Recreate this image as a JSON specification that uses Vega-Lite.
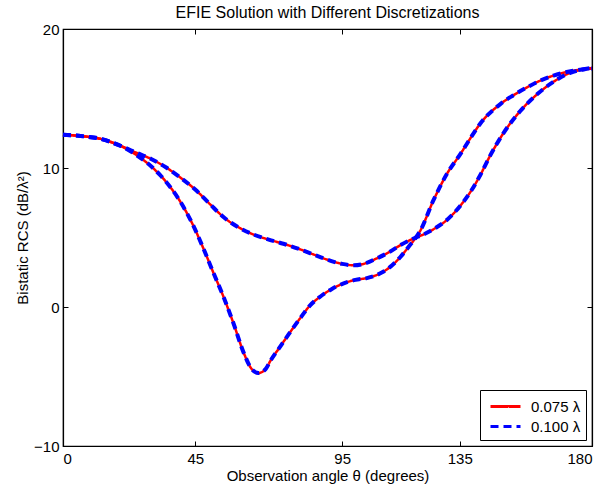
{
"$schema": "https://vega.github.io/schema/vega-lite/v6.json",
"width": 529, "height": 417,
"autosize": {"type": "none"},
"padding": {"left": 63, "top": 29, "right": 10, "bottom": 43},
"background": "white",
"title": {"text": "EFIE Solution with Different Discretizations", "font": "Liberation Sans", "fontSize": 16, "fontWeight": "normal", "color": "black", "offset": 1},
"config": {
  "view": {"stroke": "black", "strokeWidth": 1.2},
  "axis": {"labelFont": "Liberation Sans", "titleFont": "Liberation Sans", "labelFontSize": 15, "titleFontSize": 15, "titleFontWeight": "normal", "labelColor": "black", "titleColor": "black", "domainColor": "black", "tickColor": "black", "grid": false, "tickSize": -5, "domainWidth": 1.2, "tickWidth": 1},
  "legend": {"orient": "bottom-right", "offset": 6, "strokeColor": "black", "fillColor": "white", "padding": 5, "cornerRadius": 0, "labelFont": "Liberation Sans", "labelFontSize": 15, "labelColor": "black", "symbolType": "M-1.5,0L1.5,0", "symbolSize": 400, "symbolStrokeWidth": 3, "rowPadding": 0, "symbolOffset": 9, "labelOffset": 14}
},
"data": {"values": [
{"series":"0.075 λ","curve":"A","theta":0,"rcs":12.4},
{"series":"0.075 λ","curve":"A","theta":6,"rcs":12.3},
{"series":"0.075 λ","curve":"A","theta":12.7,"rcs":12.1},
{"series":"0.075 λ","curve":"A","theta":19.5,"rcs":11.6},
{"series":"0.075 λ","curve":"A","theta":25,"rcs":11.1},
{"series":"0.075 λ","curve":"A","theta":30,"rcs":10.65},
{"series":"0.075 λ","curve":"A","theta":35,"rcs":10.05},
{"series":"0.075 λ","curve":"A","theta":40,"rcs":9.3},
{"series":"0.075 λ","curve":"A","theta":45,"rcs":8.45},
{"series":"0.075 λ","curve":"A","theta":50,"rcs":7.4},
{"series":"0.075 λ","curve":"A","theta":55,"rcs":6.4},
{"series":"0.075 λ","curve":"A","theta":60,"rcs":5.7},
{"series":"0.075 λ","curve":"A","theta":65,"rcs":5.2},
{"series":"0.075 λ","curve":"A","theta":70,"rcs":4.85},
{"series":"0.075 λ","curve":"A","theta":75,"rcs":4.55},
{"series":"0.075 λ","curve":"A","theta":80,"rcs":4.2},
{"series":"0.075 λ","curve":"A","theta":85,"rcs":3.8},
{"series":"0.075 λ","curve":"A","theta":90,"rcs":3.4},
{"series":"0.075 λ","curve":"A","theta":95,"rcs":3.1},
{"series":"0.075 λ","curve":"A","theta":99,"rcs":3.0},
{"series":"0.075 λ","curve":"A","theta":103,"rcs":3.15},
{"series":"0.075 λ","curve":"A","theta":106.8,"rcs":3.5},
{"series":"0.075 λ","curve":"A","theta":111,"rcs":3.95},
{"series":"0.075 λ","curve":"A","theta":114.8,"rcs":4.45},
{"series":"0.075 λ","curve":"A","theta":119.3,"rcs":4.93},
{"series":"0.075 λ","curve":"A","theta":123,"rcs":5.25},
{"series":"0.075 λ","curve":"A","theta":126.5,"rcs":5.65},
{"series":"0.075 λ","curve":"A","theta":130,"rcs":6.15},
{"series":"0.075 λ","curve":"A","theta":133,"rcs":6.75},
{"series":"0.075 λ","curve":"A","theta":136,"rcs":7.5},
{"series":"0.075 λ","curve":"A","theta":139,"rcs":8.4},
{"series":"0.075 λ","curve":"A","theta":142,"rcs":9.5},
{"series":"0.075 λ","curve":"A","theta":145,"rcs":10.75},
{"series":"0.075 λ","curve":"A","theta":150,"rcs":12.55},
{"series":"0.075 λ","curve":"A","theta":155.6,"rcs":14.1},
{"series":"0.075 λ","curve":"A","theta":161.3,"rcs":15.3},
{"series":"0.075 λ","curve":"A","theta":166.9,"rcs":16.2},
{"series":"0.075 λ","curve":"A","theta":172.6,"rcs":16.85},
{"series":"0.075 λ","curve":"A","theta":176,"rcs":17.05},
{"series":"0.075 λ","curve":"A","theta":180,"rcs":17.2},
{"series":"0.075 λ","curve":"B","theta":0,"rcs":12.4},
{"series":"0.075 λ","curve":"B","theta":6,"rcs":12.3},
{"series":"0.075 λ","curve":"B","theta":12.7,"rcs":12.1},
{"series":"0.075 λ","curve":"B","theta":19.5,"rcs":11.6},
{"series":"0.075 λ","curve":"B","theta":25.2,"rcs":10.9},
{"series":"0.075 λ","curve":"B","theta":29,"rcs":10.3},
{"series":"0.075 λ","curve":"B","theta":33,"rcs":9.5},
{"series":"0.075 λ","curve":"B","theta":36.6,"rcs":8.6},
{"series":"0.075 λ","curve":"B","theta":40,"rcs":7.55},
{"series":"0.075 λ","curve":"B","theta":44,"rcs":6.0},
{"series":"0.075 λ","curve":"B","theta":47.8,"rcs":4.2},
{"series":"0.075 λ","curve":"B","theta":51.2,"rcs":2.45},
{"series":"0.075 λ","curve":"B","theta":54.6,"rcs":0.74},
{"series":"0.075 λ","curve":"B","theta":58,"rcs":-1.17},
{"series":"0.075 λ","curve":"B","theta":61.5,"rcs":-3.3},
{"series":"0.075 λ","curve":"B","theta":64,"rcs":-4.4},
{"series":"0.075 λ","curve":"B","theta":66.5,"rcs":-4.75},
{"series":"0.075 λ","curve":"B","theta":69,"rcs":-4.45},
{"series":"0.075 λ","curve":"B","theta":70.5,"rcs":-3.9},
{"series":"0.075 λ","curve":"B","theta":73.9,"rcs":-2.85},
{"series":"0.075 λ","curve":"B","theta":77,"rcs":-1.9},
{"series":"0.075 λ","curve":"B","theta":80.7,"rcs":-0.81},
{"series":"0.075 λ","curve":"B","theta":84,"rcs":0.1},
{"series":"0.075 λ","curve":"B","theta":87.5,"rcs":0.74},
{"series":"0.075 λ","curve":"B","theta":91.5,"rcs":1.3},
{"series":"0.075 λ","curve":"B","theta":95.5,"rcs":1.7},
{"series":"0.075 λ","curve":"B","theta":99.5,"rcs":1.95},
{"series":"0.075 λ","curve":"B","theta":103.4,"rcs":2.08},
{"series":"0.075 λ","curve":"B","theta":106.5,"rcs":2.28},
{"series":"0.075 λ","curve":"B","theta":109.1,"rcs":2.55},
{"series":"0.075 λ","curve":"B","theta":112,"rcs":3.0},
{"series":"0.075 λ","curve":"B","theta":114.8,"rcs":3.6},
{"series":"0.075 λ","curve":"B","theta":117.5,"rcs":4.3},
{"series":"0.075 λ","curve":"B","theta":121.6,"rcs":5.5},
{"series":"0.075 λ","curve":"B","theta":126.1,"rcs":7.7},
{"series":"0.075 λ","curve":"B","theta":130.7,"rcs":9.6},
{"series":"0.075 λ","curve":"B","theta":135.2,"rcs":11.0},
{"series":"0.075 λ","curve":"B","theta":138.5,"rcs":12.1},
{"series":"0.075 λ","curve":"B","theta":142,"rcs":13.2},
{"series":"0.075 λ","curve":"B","theta":148.8,"rcs":14.6},
{"series":"0.075 λ","curve":"B","theta":153,"rcs":15.2},
{"series":"0.075 λ","curve":"B","theta":157.9,"rcs":15.8},
{"series":"0.075 λ","curve":"B","theta":162,"rcs":16.25},
{"series":"0.075 λ","curve":"B","theta":166.9,"rcs":16.65},
{"series":"0.075 λ","curve":"B","theta":173.7,"rcs":17.0},
{"series":"0.075 λ","curve":"B","theta":180,"rcs":17.15},
{"series":"0.100 λ","curve":"A","theta":0,"rcs":12.4},
{"series":"0.100 λ","curve":"A","theta":6,"rcs":12.3},
{"series":"0.100 λ","curve":"A","theta":12.7,"rcs":12.1},
{"series":"0.100 λ","curve":"A","theta":19.5,"rcs":11.6},
{"series":"0.100 λ","curve":"A","theta":25,"rcs":11.1},
{"series":"0.100 λ","curve":"A","theta":30,"rcs":10.65},
{"series":"0.100 λ","curve":"A","theta":35,"rcs":10.05},
{"series":"0.100 λ","curve":"A","theta":40,"rcs":9.3},
{"series":"0.100 λ","curve":"A","theta":45,"rcs":8.45},
{"series":"0.100 λ","curve":"A","theta":50,"rcs":7.4},
{"series":"0.100 λ","curve":"A","theta":55,"rcs":6.4},
{"series":"0.100 λ","curve":"A","theta":60,"rcs":5.7},
{"series":"0.100 λ","curve":"A","theta":65,"rcs":5.2},
{"series":"0.100 λ","curve":"A","theta":70,"rcs":4.85},
{"series":"0.100 λ","curve":"A","theta":75,"rcs":4.55},
{"series":"0.100 λ","curve":"A","theta":80,"rcs":4.2},
{"series":"0.100 λ","curve":"A","theta":85,"rcs":3.8},
{"series":"0.100 λ","curve":"A","theta":90,"rcs":3.4},
{"series":"0.100 λ","curve":"A","theta":95,"rcs":3.1},
{"series":"0.100 λ","curve":"A","theta":99,"rcs":3.0},
{"series":"0.100 λ","curve":"A","theta":103,"rcs":3.15},
{"series":"0.100 λ","curve":"A","theta":106.8,"rcs":3.5},
{"series":"0.100 λ","curve":"A","theta":111,"rcs":3.95},
{"series":"0.100 λ","curve":"A","theta":114.8,"rcs":4.45},
{"series":"0.100 λ","curve":"A","theta":119.3,"rcs":4.93},
{"series":"0.100 λ","curve":"A","theta":123,"rcs":5.25},
{"series":"0.100 λ","curve":"A","theta":126.5,"rcs":5.65},
{"series":"0.100 λ","curve":"A","theta":130,"rcs":6.15},
{"series":"0.100 λ","curve":"A","theta":133,"rcs":6.75},
{"series":"0.100 λ","curve":"A","theta":136,"rcs":7.5},
{"series":"0.100 λ","curve":"A","theta":139,"rcs":8.4},
{"series":"0.100 λ","curve":"A","theta":142,"rcs":9.5},
{"series":"0.100 λ","curve":"A","theta":145,"rcs":10.75},
{"series":"0.100 λ","curve":"A","theta":150,"rcs":12.55},
{"series":"0.100 λ","curve":"A","theta":155.6,"rcs":14.1},
{"series":"0.100 λ","curve":"A","theta":161.3,"rcs":15.3},
{"series":"0.100 λ","curve":"A","theta":166.9,"rcs":16.2},
{"series":"0.100 λ","curve":"A","theta":172.6,"rcs":16.85},
{"series":"0.100 λ","curve":"A","theta":176,"rcs":17.05},
{"series":"0.100 λ","curve":"A","theta":180,"rcs":17.2},
{"series":"0.100 λ","curve":"B","theta":0,"rcs":12.4},
{"series":"0.100 λ","curve":"B","theta":6,"rcs":12.3},
{"series":"0.100 λ","curve":"B","theta":12.7,"rcs":12.1},
{"series":"0.100 λ","curve":"B","theta":19.5,"rcs":11.6},
{"series":"0.100 λ","curve":"B","theta":25.2,"rcs":10.9},
{"series":"0.100 λ","curve":"B","theta":29,"rcs":10.3},
{"series":"0.100 λ","curve":"B","theta":33,"rcs":9.5},
{"series":"0.100 λ","curve":"B","theta":36.6,"rcs":8.6},
{"series":"0.100 λ","curve":"B","theta":40,"rcs":7.55},
{"series":"0.100 λ","curve":"B","theta":44,"rcs":6.0},
{"series":"0.100 λ","curve":"B","theta":47.8,"rcs":4.2},
{"series":"0.100 λ","curve":"B","theta":51.2,"rcs":2.45},
{"series":"0.100 λ","curve":"B","theta":54.6,"rcs":0.74},
{"series":"0.100 λ","curve":"B","theta":58,"rcs":-1.17},
{"series":"0.100 λ","curve":"B","theta":61.5,"rcs":-3.3},
{"series":"0.100 λ","curve":"B","theta":64,"rcs":-4.4},
{"series":"0.100 λ","curve":"B","theta":66.5,"rcs":-4.75},
{"series":"0.100 λ","curve":"B","theta":69,"rcs":-4.45},
{"series":"0.100 λ","curve":"B","theta":70.5,"rcs":-3.9},
{"series":"0.100 λ","curve":"B","theta":73.9,"rcs":-2.85},
{"series":"0.100 λ","curve":"B","theta":77,"rcs":-1.9},
{"series":"0.100 λ","curve":"B","theta":80.7,"rcs":-0.81},
{"series":"0.100 λ","curve":"B","theta":84,"rcs":0.1},
{"series":"0.100 λ","curve":"B","theta":87.5,"rcs":0.74},
{"series":"0.100 λ","curve":"B","theta":91.5,"rcs":1.3},
{"series":"0.100 λ","curve":"B","theta":95.5,"rcs":1.7},
{"series":"0.100 λ","curve":"B","theta":99.5,"rcs":1.95},
{"series":"0.100 λ","curve":"B","theta":103.4,"rcs":2.08},
{"series":"0.100 λ","curve":"B","theta":106.5,"rcs":2.28},
{"series":"0.100 λ","curve":"B","theta":109.1,"rcs":2.55},
{"series":"0.100 λ","curve":"B","theta":112,"rcs":3.0},
{"series":"0.100 λ","curve":"B","theta":114.8,"rcs":3.6},
{"series":"0.100 λ","curve":"B","theta":117.5,"rcs":4.3},
{"series":"0.100 λ","curve":"B","theta":121.6,"rcs":5.5},
{"series":"0.100 λ","curve":"B","theta":126.1,"rcs":7.7},
{"series":"0.100 λ","curve":"B","theta":130.7,"rcs":9.6},
{"series":"0.100 λ","curve":"B","theta":135.2,"rcs":11.0},
{"series":"0.100 λ","curve":"B","theta":138.5,"rcs":12.1},
{"series":"0.100 λ","curve":"B","theta":142,"rcs":13.2},
{"series":"0.100 λ","curve":"B","theta":148.8,"rcs":14.6},
{"series":"0.100 λ","curve":"B","theta":153,"rcs":15.2},
{"series":"0.100 λ","curve":"B","theta":157.9,"rcs":15.8},
{"series":"0.100 λ","curve":"B","theta":162,"rcs":16.25},
{"series":"0.100 λ","curve":"B","theta":166.9,"rcs":16.65},
{"series":"0.100 λ","curve":"B","theta":173.7,"rcs":17.0},
{"series":"0.100 λ","curve":"B","theta":180,"rcs":17.15}
]},
"layer": [
  {
    "transform": [{"filter": {"field": "series", "equal": "0.075 λ"}}],
    "mark": {"type": "line", "interpolate": "monotone", "strokeWidth": 2.5},
    "encoding": {
      "x": {"field": "theta", "type": "quantitative", "scale": {"domain": [0, 180], "nice": false, "zero": false},
            "axis": {"orient": "bottom", "values": [0, 45, 95, 135, 180], "title": "Observation angle θ (degrees)", "labelPadding": 10, "titlePadding": 2}},
      "y": {"field": "rcs", "type": "quantitative", "scale": {"domain": [-10, 20], "nice": false, "zero": false},
            "axis": {"orient": "left", "values": [-10, 0, 10, 20], "title": "Bistatic RCS (dB/λ²)", "labelPadding": 9, "titlePadding": 3}},
      "color": {"field": "series", "type": "nominal", "scale": {"domain": ["0.075 λ", "0.100 λ"], "range": ["#ff0000", "#0000ff"]}, "legend": {"title": null}},
      "strokeDash": {"field": "series", "type": "nominal", "scale": {"domain": ["0.075 λ", "0.100 λ"], "range": [[1, 0], [8, 5]]}, "legend": {"title": null}},
      "detail": {"field": "curve"}
    }
  },
  {
    "transform": [{"filter": {"field": "series", "equal": "0.100 λ"}}],
    "mark": {"type": "line", "interpolate": "monotone", "strokeWidth": 4},
    "encoding": {
      "x": {"field": "theta", "type": "quantitative", "axis": {"orient": "top", "values": [0, 45, 95, 135, 180], "labels": false, "title": null}},
      "y": {"field": "rcs", "type": "quantitative", "axis": {"orient": "right", "values": [-10, 0, 10, 20], "labels": false, "title": null}},
      "color": {"field": "series", "type": "nominal", "legend": {"title": null}},
      "strokeDash": {"field": "series", "type": "nominal", "legend": {"title": null}},
      "detail": {"field": "curve"}
    }
  }
],
"resolve": {"axis": {"x": "independent", "y": "independent"}}
}
